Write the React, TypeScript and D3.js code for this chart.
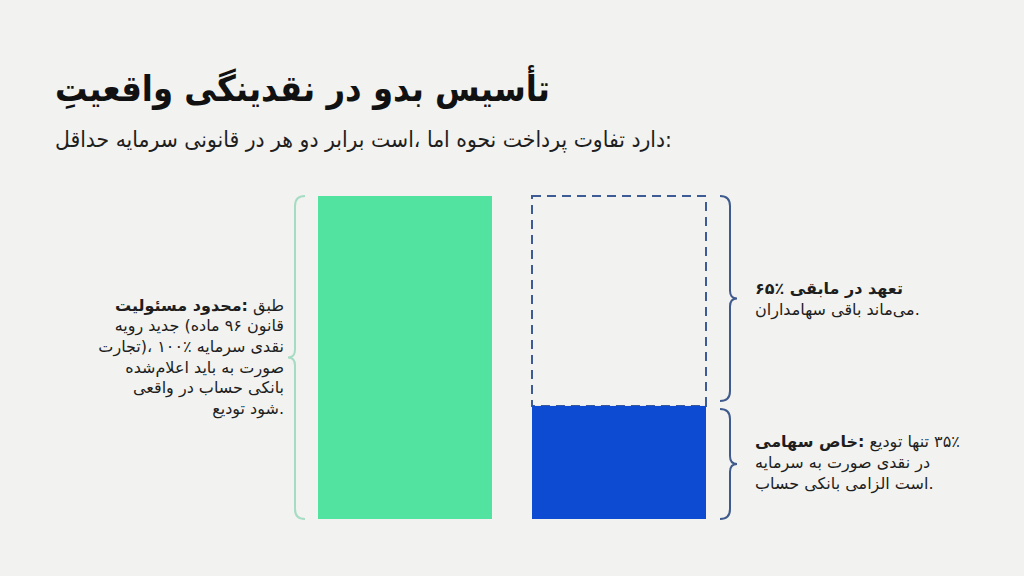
import React from "react";
import * as d3 from "d3";

const W = 1024;
const H = 576;

// ---- data ----
const categories = ["مسئولیت محدود", "سهامی خاص"];
const depositedShare = [100, 35];
const commitmentShare = [0, 65];

const titleText = "واقعیتِ نقدینگی در بدو تأسیس";
const subtitleText = "حداقل سرمایه قانونی در هر دو برابر است، اما نحوه پرداخت تفاوت دارد:";

const llcLines = [
  { bold: "مسئولیت محدود:", text: "طبق" },
  { bold: "", text: "رویه جدید (ماده ۹۶ قانون" },
  { bold: "", text: "تجارت)، ۱۰۰٪ سرمایه نقدی" },
  { bold: "", text: "اعلام‌شده باید به صورت" },
  { bold: "", text: "واقعی در حساب بانکی" },
  { bold: "", text: "توديع شود." },
];
const commitLines = [
  { bold: "۶۵٪ مابقی در تعهد", text: "" },
  { bold: "", text: "سهامداران باقی می‌ماند." },
];
const jscLines = [
  { bold: "سهامی خاص:", text: "توديع تنها ۳۵٪" },
  { bold: "", text: "سرمایه به صورت نقدی در" },
  { bold: "", text: "حساب بانکی الزامی است." },
];

const FAMILY = "DejaVu Sans";
const FONT = "'DejaVu Sans', sans-serif";

let ctx: CanvasRenderingContext2D | null = null;
function measure(s: string, size: number, bold: boolean) {
  if (!ctx) ctx = document.createElement("canvas").getContext("2d");
  if (!ctx) return s.length * size * 0.5;
  ctx.font = `${bold ? "bold " : ""}${size}px '${FAMILY}'`;
  return ctx.measureText(s).width;
}

type Word = { w: string; bold: boolean; x: number };

// words placed left to right, as in the reference
function layout(parts: { text: string; bold: boolean }[], size: number) {
  const out: Word[] = [];
  let x = 0;
  parts.forEach((p) => {
    if (!p.text) return;
    p.text.split(" ").forEach((w) => {
      if (out.length) x += measure(" ", size, p.bold);
      out.push({ w, bold: p.bold, x });
      x += measure(w, size, p.bold);
    });
  });
  return { words: out, width: x };
}

function WordLine({ parts, size, x, y, align, fill, baseline, targetWidth }: any) {
  const { words, width } = layout(parts, size);
  const sx = targetWidth ? targetWidth / width : 1;
  const x0 = align === "right" ? x - width * sx : x;
  return (
    <g transform={`translate(${x0},${y}) scale(${sx},1)`} fontFamily={FONT} fontSize={size} fill={fill}>
      {words.map((wd, i) => (
        <text key={i} x={wd.x} y={0} fontWeight={wd.bold ? "bold" : "normal"} dominantBaseline={baseline}>
          {wd.w}
        </text>
      ))}
    </g>
  );
}

function Block({ lines, x, y0, dy, align, size }: any) {
  return (
    <g>
      {lines.map((l: any, i: number) => (
        <WordLine
          key={i}
          parts={[
            { text: l.bold, bold: true },
            { text: l.text, bold: false },
          ]}
          size={size}
          x={x}
          y={y0 + i * dy}
          align={align}
          fill="#1e1e1e"
          baseline="central"
        />
      ))}
    </g>
  );
}

function bracePath(x: number, y0: number, y1: number, dir: number, r: number, tip: number) {
  const ym = (y0 + y1) / 2;
  const xe = x + dir * r;
  const xt = x - dir * tip;
  const p = d3.path();
  p.moveTo(xe, y0);
  p.quadraticCurveTo(x, y0, x, y0 + r);
  p.lineTo(x, ym - 8);
  p.quadraticCurveTo(x, ym, xt, ym);
  p.quadraticCurveTo(x, ym, x, ym + 8);
  p.lineTo(x, y1 - r);
  p.quadraticCurveTo(x, y1, xe, y1);
  return p.toString();
}

export default function App() {
  const x = d3
    .scaleBand<string>()
    .domain(categories)
    .range([318, 706])
    .paddingInner(40 / 214)
    .paddingOuter(0);
  const y = d3.scaleLinear().domain([0, 100]).range([519, 196]);
  const bw = x.bandwidth();

  const xL = x(categories[0])!;
  const xR = x(categories[1])!;
  const total = depositedShare[1] + commitmentShare[1];

  return (
    <svg width={W} height={H} style={{ position: "absolute", left: 0, top: 0 }}>
      <rect width={W} height={H} fill="#f2f2f0" />

      <WordLine parts={[{ text: titleText, bold: true }]} size={36} x={55} y={101} align="left"
        fill="#111" baseline="auto" targetWidth={495} />
      <WordLine parts={[{ text: subtitleText, bold: false }]} size={22} x={55} y={147} align="left"
        fill="#1e1e1e" baseline="auto" targetWidth={617} />

      {/* LLC bar: fully deposited */}
      <rect x={xL} y={y(depositedShare[0])} width={bw} height={y(0) - y(depositedShare[0])} fill="#52e3a0" />

      {/* JSC: committed part (dashed) */}
      <rect
        x={xR}
        y={y(total)}
        width={bw}
        height={y(depositedShare[1]) - y(total)}
        fill="none"
        stroke="#3d5b95"
        strokeWidth={2}
        strokeDasharray="9 6"
      />
      {/* JSC: deposited part */}
      <rect x={xR} y={y(depositedShare[1])} width={bw} height={y(0) - y(depositedShare[1])} fill="#0d4bd3" />

      {/* braces */}
      <path d={bracePath(295, y(100), y(0), 1, 10, 7)} fill="none" stroke="#a6dcc3" strokeWidth={2} />
      <path d={bracePath(730, y(total), y(depositedShare[1]) - 5, -1, 10, 7)} fill="none" stroke="#3f5a8c" strokeWidth={2} />
      <path d={bracePath(730, y(depositedShare[1]) + 3, y(0), -1, 10, 7)} fill="none" stroke="#3f5a8c" strokeWidth={2} />

      <Block lines={llcLines} x={284} y0={305} dy={20.7} align="right" size={16} />
      <Block lines={commitLines} x={755} y0={288} dy={21} align="left" size={16} />
      <Block lines={jscLines} x={755} y0={441} dy={21} align="left" size={16} />
    </svg>
  );
}
